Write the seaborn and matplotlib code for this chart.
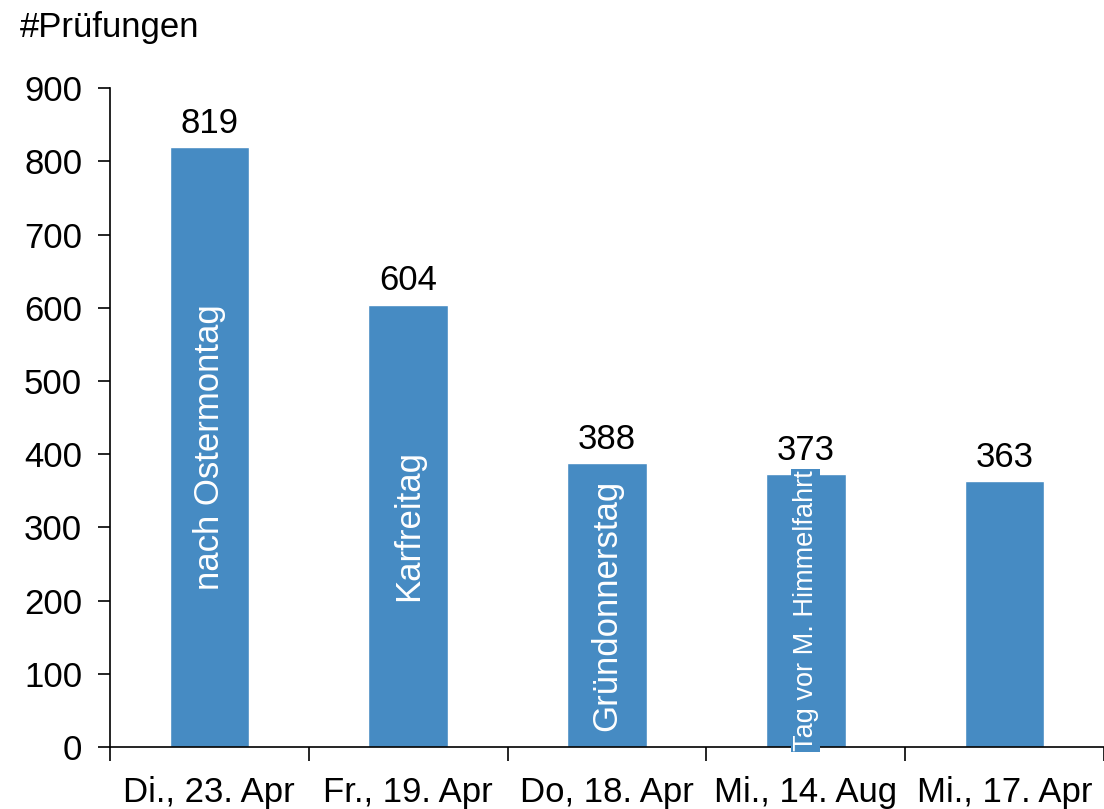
import matplotlib
matplotlib.use("Agg")
import matplotlib.pyplot as plt
import seaborn as sns
import pandas as pd

# Daten
tage = ["Di., 23. Apr", "Fr., 19. Apr", "Do, 18. Apr", "Mi., 14. Aug", "Mi., 17. Apr"]
pruefungen = [819, 604, 388, 373, 363]
anlass = ["nach Ostermontag", "Karfreitag", "Gründonnerstag", "Tag vor M. Himmelfahrt", ""]

farbe = "#468BC3"

sns.set_style("white")
plt.rcParams["font.family"] = ["Liberation Sans", "DejaVu Sans"]
plt.rcParams["text.color"] = "black"
plt.rcParams["xtick.color"] = "black"
plt.rcParams["ytick.color"] = "black"

df = pd.DataFrame({"Tag": tage, "Anzahl": pruefungen})

fig = plt.figure(figsize=(11.04, 8.09), dpi=100)
ax = fig.add_axes([0.0996, 0.0766, 0.9004, 0.8145])

sns.barplot(data=df, x="Tag", y="Anzahl", color=farbe, width=0.4, saturation=1, ax=ax)

ax.set_xlim(-0.5, 4.5)
ax.set_ylim(0, 900)
ax.set_yticks(range(0, 901, 100))
ax.set_xlabel("")
ax.set_ylabel("")

sns.despine(ax=ax, top=True, right=True)
for s in ["left", "bottom"]:
    ax.spines[s].set_color("black")
    ax.spines[s].set_linewidth(1.2)

ax.tick_params(axis="y", labelsize=25, length=9, width=1.2, direction="out", left=True, pad=11)
ax.tick_params(axis="x", which="major", labelsize=25, length=0, pad=21)
ax.set_xticks([i + 0.5 for i in range(-1, len(tage))], minor=True)
ax.tick_params(axis="x", which="minor", length=10, width=1.2, direction="out", bottom=True)

# Werte über den Balken
for i, v in enumerate(pruefungen):
    ax.text(i, v + 10, str(v), ha="center", va="bottom", fontsize=25)

# Anlass in den Balken
for i, (v, t) in enumerate(zip(pruefungen, anlass)):
    if not t:
        continue
    if len(t) > 18:
        ax.text(i, v / 2, t, rotation=90, ha="center", va="center", color="white",
                fontsize=19.5,
                bbox=dict(facecolor=farbe, edgecolor="none", pad=1))
    else:
        ax.text(i, v / 2, t, rotation=90, ha="center", va="center", color="white",
                fontsize=25)

fig.text(0.018, 0.966, "#Prüfungen", fontsize=25, ha="left", va="center")

fig.savefig("out.png", dpi=100)
